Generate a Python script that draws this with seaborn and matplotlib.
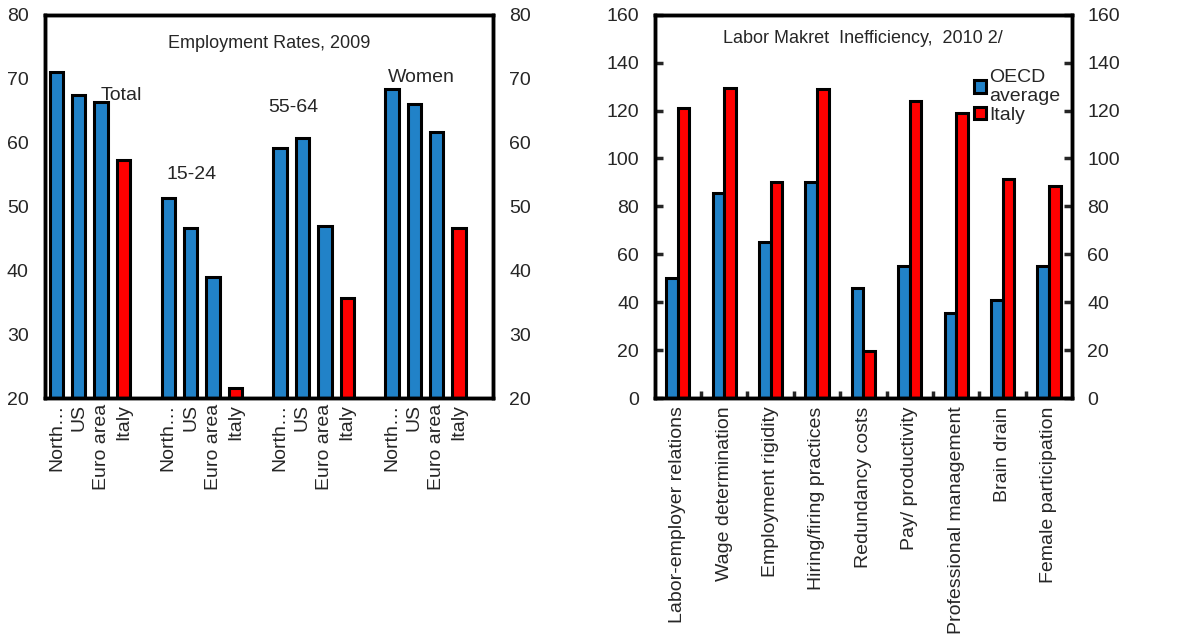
import matplotlib
matplotlib.use("Agg")
import matplotlib.pyplot as plt
from matplotlib.transforms import ScaledTranslation
import pandas as pd
import seaborn as sns

# left panel: employment rates 2009
groups = ["Total", "15-24", "55-64", "Women"]
regions = ["North…", "US", "Euro area", "Italy"]
total = [71.1, 67.5, 66.3, 57.2]
youth = [51.3, 46.6, 39.0, 21.6]
older = [59.2, 60.7, 46.9, 35.6]
women = [68.3, 66.0, 61.7, 46.6]

# right panel: labor market inefficiency 2010
factors = ["Labor-employer relations", "Wage determination", "Employment rigidity",
           "Hiring/firing practices", "Redundancy costs", "Pay/ productivity",
           "Professional management", "Brain drain", "Female participation"]
oecd = [50, 85.5, 65, 90, 46, 55, 35.5, 41, 55]
italy = [121, 129.5, 90, 129, 19.5, 124, 119, 91.5, 88.5]

BLUE = "#2182c8"
RED = "#ff0000"

sns.set_style("white")
plt.rcParams["font.family"] = ["Liberation Sans", "DejaVu Sans"]
plt.rcParams["font.size"] = 14

fig = plt.figure(figsize=(11.9, 6.39), dpi=100)
ax1 = fig.add_axes([0.038, 0.377, 0.376, 0.6])
ax2 = fig.add_axes([0.55, 0.377, 0.351, 0.6])

# ---- left chart ----
rows = []
order = []
ticklabels = []
for g, vals in zip(groups, [total, youth, older, women]):
    for r, v in zip(regions, vals):
        key = g + "|" + r
        rows.append({"key": key, "value": v, "region": r})
        order.append(key)
        ticklabels.append(r)
    order.append("gap " + g)
    ticklabels.append("")
left = pd.DataFrame(rows)
left["col"] = ["Italy" if r == "Italy" else "other" for r in left["region"]]

sns.barplot(data=left, x="key", y="value", hue="col", order=order,
            palette={"other": BLUE, "Italy": RED}, width=0.6, saturation=1,
            edgecolor="black", linewidth=2.2, legend=False, ax=ax1)
ax1.set_ylim(20, 80)
ax1.set_xlim(-0.5, len(order) - 0.5)
ax1.set_xticks(range(len(order)))
ax1.set_xticklabels(ticklabels, rotation=90, fontsize=14)
ax1.tick_params(axis="x", length=0, pad=4)
ax1.set_yticks(range(20, 81, 10))
ax1.set_xlabel("")
ax1.set_ylabel("")
ax1.tick_params(axis="y", length=0, labelsize=14, pad=12)
tw1 = ax1.twinx()
tw1.set_ylim(20, 80)
tw1.set_yticks(range(20, 81, 10))
tw1.tick_params(axis="y", length=0, labelsize=14, pad=12)
for ax in (ax1, tw1):
    for s in ax.spines.values():
        s.set_linewidth(2.5)
        s.set_color("black")

ax1.text(0.5, 0.924, "Employment Rates, 2009", transform=ax1.transAxes,
         ha="center", va="center", fontsize=13)
ax1.text(2.9, 67.3, "Total", fontsize=14, ha="center", va="center")
ax1.text(6.05, 55.0, "15-24", fontsize=14, ha="center", va="center")
ax1.text(10.6, 65.5, "55-64", fontsize=14, ha="center", va="center")
ax1.text(16.3, 70.2, "Women", fontsize=14, ha="center", va="center")

# ---- right chart ----
right = pd.DataFrame({
    "factor": factors * 2,
    "value": oecd + italy,
    "series": ["OECD\naverage"] * len(factors) + ["Italy"] * len(factors),
})
sns.barplot(data=right, x="factor", y="value", hue="series", order=factors,
            palette={"OECD\naverage": BLUE, "Italy": RED}, width=0.5, saturation=1,
            edgecolor="black", linewidth=2.2, ax=ax2)
ax2.set_ylim(0, 160)
ax2.set_xlim(-0.5, len(factors) - 0.5)
ax2.set_yticks(range(0, 161, 20))
ax2.set_xlabel("")
ax2.set_ylabel("")
ax2.set_xticks(range(len(factors)))
ax2.set_xticklabels(factors, rotation=90, fontsize=14)
shift = ScaledTranslation(8 / 100, 0, fig.dpi_scale_trans)
for lab in ax2.get_xticklabels():
    lab.set_transform(lab.get_transform() + shift)
ax2.tick_params(axis="x", length=0, pad=6)
ax2.set_xticks([i + 0.5 for i in range(len(factors) - 1)], minor=True)
ax2.tick_params(axis="x", which="minor", direction="in", length=5, width=2.5, bottom=True)
ax2.tick_params(axis="y", direction="in", length=6, width=2.5, labelsize=14, pad=11, left=True)
tw2 = ax2.twinx()
tw2.set_ylim(0, 160)
tw2.set_yticks(range(0, 161, 20))
tw2.tick_params(axis="y", direction="in", length=6, width=2.5, labelsize=14, pad=11, right=True)
for ax in (ax2, tw2):
    for s in ax.spines.values():
        s.set_linewidth(2.5)
        s.set_color("black")

ax2.text(0.5, 0.937, "Labor Makret  Inefficiency,  2010 2/", transform=ax2.transAxes,
         ha="center", va="center", fontsize=13)
leg = ax2.legend(loc="upper right", bbox_to_anchor=(1.0, 0.89), frameon=False,
                 fontsize=14, handlelength=0.6, handleheight=0.6, handletextpad=0.2,
                 labelspacing=0.1, borderaxespad=0.2)

fig.savefig("out.png", dpi=100)
